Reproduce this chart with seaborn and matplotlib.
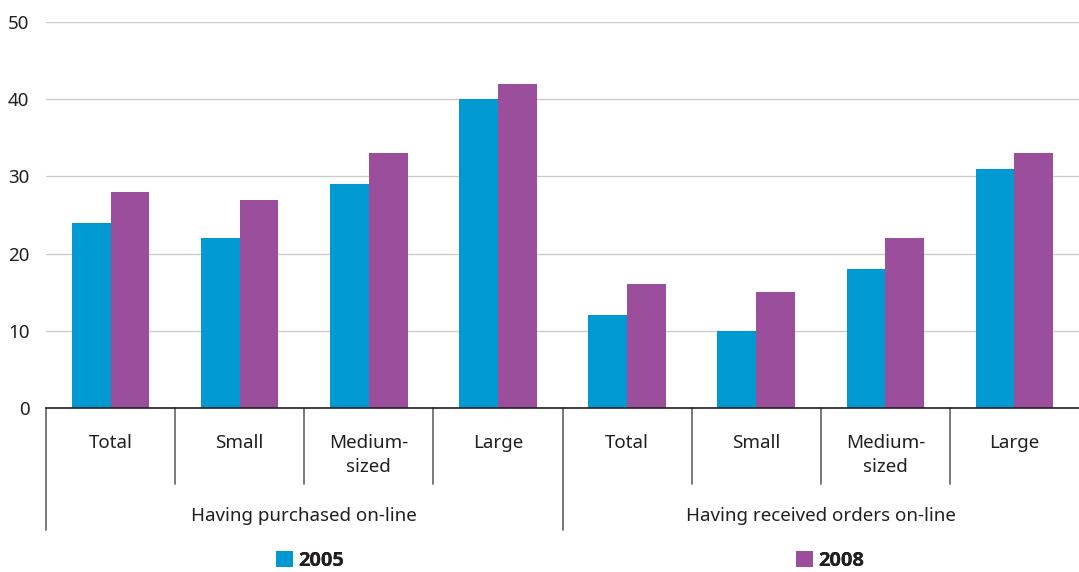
import matplotlib
matplotlib.use("Agg")
import matplotlib.pyplot as plt
import pandas as pd
import seaborn as sns

# %% data
groups = ["Having purchased on-line", "Having received orders on-line"]
sizes = ["Total", "Small", "Medium-\nsized", "Large"]
years = ["2005", "2008"]
purchased_2005 = [24, 22, 29, 40]
purchased_2008 = [28, 27, 33, 42]
received_2005 = [12, 10, 18, 31]
received_2008 = [16, 15, 22, 33]

colors = ["#0099d1", "#9b4e9c"]

rows = []
for g, v05, v08 in [(groups[0], purchased_2005, purchased_2008),
                    (groups[1], received_2005, received_2008)]:
    for s, a, b in zip(sizes, v05, v08):
        key = g + "|" + s
        rows.append({"key": key, "year": years[0], "value": a})
        rows.append({"key": key, "year": years[1], "value": b})
df = pd.DataFrame(rows)

# %% style
sns.set_theme(style="white")
plt.rcParams["font.family"] = ["Noto Sans", "DejaVu Sans"]
plt.rcParams["text.color"] = "#231f20"

fig = plt.figure(figsize=(10.79, 5.72), dpi=100)
ax = fig.add_axes([46 / 1079, 1 - 408 / 572, 1 - 46 / 1079, 386 / 572])

sns.barplot(data=df, x="key", y="value", hue="year", palette=colors,
            width=0.6, saturation=1, linewidth=0, edgecolor="none", ax=ax)

ax.set_ylim(0, 50)
ax.set_xlim(-0.5, 7.5)
ax.set_yticks([0, 10, 20, 30, 40, 50])
ax.yaxis.grid(True, color="#cccccc", linewidth=1)
ax.set_axisbelow(True)
for side in ["left", "right", "top"]:
    ax.spines[side].set_visible(False)
ax.spines["bottom"].set_color("#231f20")
ax.spines["bottom"].set_linewidth(1.2)
ax.set_xlabel("")
ax.set_ylabel("")
ax.tick_params(axis="y", length=0, pad=12, labelsize=13.5, labelcolor="#231f20")
ax.tick_params(axis="x", length=0, pad=19, labelsize=13.5, labelcolor="#231f20")
ax.set_xticks(range(8))
ax.set_xticklabels(sizes * 2, linespacing=1.4)

# separator lines under the axis
tr = ax.get_xaxis_transform()
short_y = -(484 - 408) / 386
long_y = -(530 - 408) / 386
for x in [-0.5, 0.5, 1.5, 2.5, 3.5, 4.5, 5.5, 6.5]:
    y_end = long_y if x in (-0.5, 3.5) else short_y
    ax.plot([x, x], [0, y_end], transform=tr, color="#6d6e71",
            linewidth=1.3, clip_on=False)

# group labels
for i, g in enumerate(groups):
    ax.text(1.5 + 4 * i, -(516 - 408) / 386, g, transform=tr,
            ha="center", va="center", fontsize=13.5, color="#231f20")

# legend: two separate entries
handles, labels = ax.get_legend_handles_labels()
ax.get_legend().remove()
for h, l, xc in zip(handles, labels, [310 / 1079, 830 / 1079]):
    leg = fig.legend([h], [l], loc="center", bbox_to_anchor=(xc, 1 - 561 / 572),
                     frameon=False, handlelength=0.85, handleheight=0.85,
                     handletextpad=0.25,
                     prop={"family": ["Open Sans", "DejaVu Sans"],
                           "weight": "bold", "size": 14.5})
    fig.add_artist(leg)

fig.savefig("out.png", dpi=100)
